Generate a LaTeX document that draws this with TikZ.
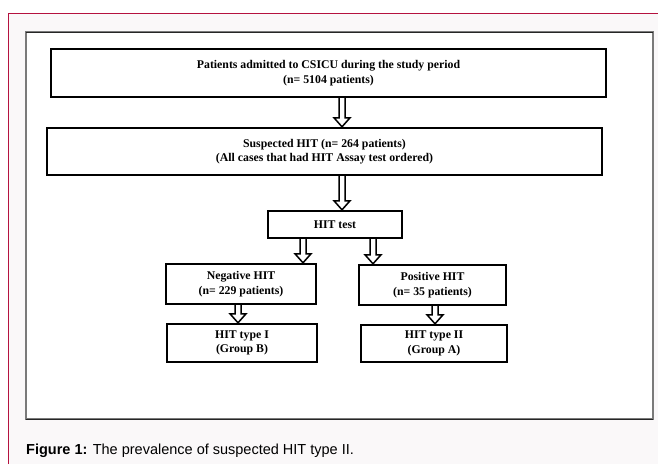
\documentclass[tikz,border=0pt]{standalone}
\usepackage{fontspec}
\setmainfont{Liberation Serif}
\newfontfamily\capfont{Liberation Sans}
\usetikzlibrary{calc}
\definecolor{bgpink}{HTML}{FAF8F9}
\definecolor{framered}{HTML}{B5123F}
\definecolor{innergray}{HTML}{7A7A7A}
\tikzset{
  flowbox/.style={draw=black, line width=2.4pt, fill=white, inner sep=0pt,
    align=center, font=\fontsize{11.8}{14.5}\selectfont\bfseries},
  hollow/.style={line width=1.5pt, fill=white, to path={
    let \p1=(\tikztostart), \p2=(\tikztotarget) in
    (\x1-3pt,\y1) -- (\x1-3pt,\y2+9pt) -- (\x1-8pt,\y2+9pt) -- (\x1,\y2)
    -- (\x1+8pt,\y2+9pt) -- (\x1+3pt,\y2+9pt) -- (\x1+3pt,\y1)}}
}
\begin{document}
\begin{tikzpicture}[x=1pt,y=-1pt]
\useasboundingbox (0,0) rectangle (658,464);
\fill[white] (0,0) rectangle (658,464);
\fill[bgpink] (8,13) rectangle (658,464);
\draw[framered, line width=1pt] (8,464) -- (8,13) -- (658,13);
\draw[innergray, line width=1.3pt, fill=white] (26,32) rectangle (653,419);
\draw[black!85, line width=0.8pt] (26,419) -- (653,419);
\draw[black!85, line width=0.8pt] (26,32) -- (653,32);

\node[flowbox, minimum width=555pt, minimum height=48pt] (b1) at (328.5,73)
  {Patients admitted to CSICU during the study period\\(n= 5104 patients)};
\node[flowbox, minimum width=555pt, minimum height=47pt] (b2) at (324.5,151.5)
  {Suspected HIT (n= 264 patients)\\(All cases that had HIT Assay test ordered)};
\node[flowbox, minimum width=134pt, minimum height=27pt] (hit) at (335,224.5) {HIT test};
\node[flowbox, minimum width=150pt, minimum height=40pt] (neg) at (241,284)
  {Negative HIT\\(n= 229 patients)};
\node[flowbox, minimum width=147pt, minimum height=40pt] (pos) at (432.5,285)
  {Positive HIT\\(n= 35 patients)};
\node[flowbox, minimum width=150pt, minimum height=38pt] (t1) at (242,343)
  {HIT type I\\(Group B)};
\node[flowbox, minimum width=146pt, minimum height=37pt] (t2) at (434,343.5)
  {HIT type II\\(Group A)};

\draw[hollow] ([xshift=13.5pt]b1.south) to (b2.north);
\draw[hollow] ([xshift=17.5pt]b2.south) to (hit.north);
\draw[hollow] ([xshift=-32pt]hit.south) to (neg.north);
\draw[hollow] ([xshift=38pt]hit.south) to (pos.north);
\draw[hollow] ([xshift=-3pt]neg.south) to (t1.north);
\draw[hollow] ([xshift=2.5pt]pos.south) to (t2.north);

\node[anchor=base west, inner sep=0pt, font=\capfont\fontsize{14.5}{17}\selectfont] (cap) at (26,454)
  {\textbf{Figure 1:} The prevalence of suspected HIT type II.};
\end{tikzpicture}
\end{document}
